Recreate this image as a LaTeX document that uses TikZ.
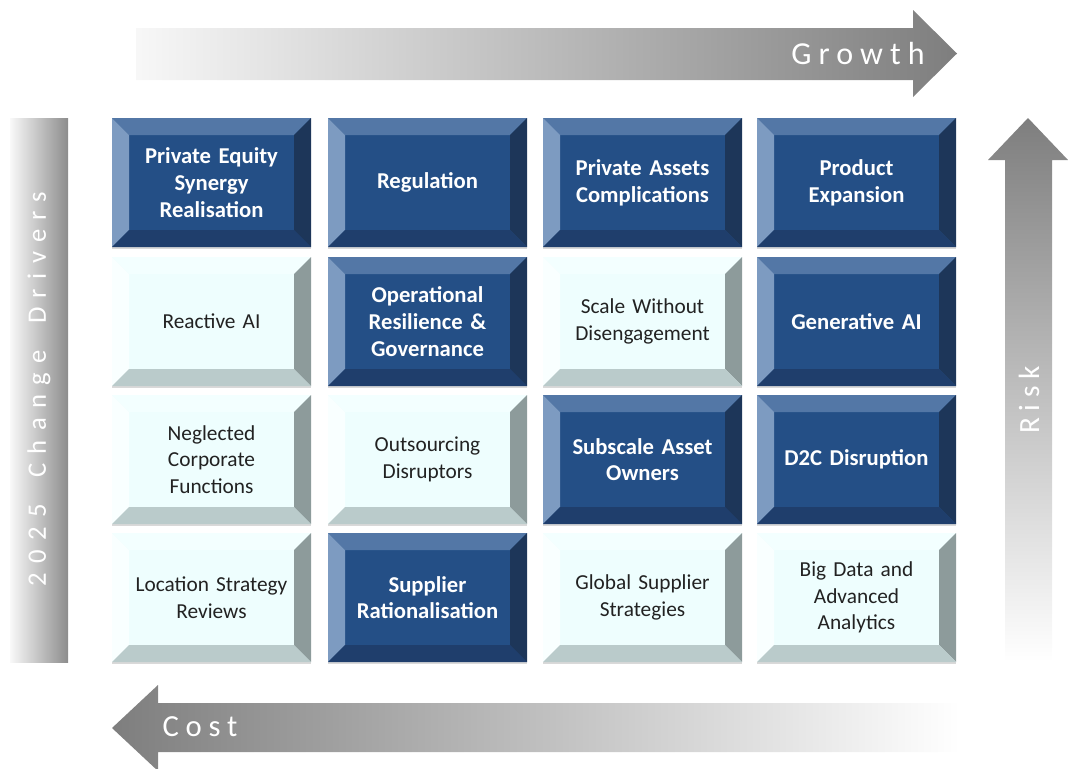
\documentclass[tikz,border=0pt]{standalone}
\usepackage{fontspec}
\setmainfont{Carlito}
\newfontfamily\axisfont[LetterSpace=22]{Carlito}
\newfontfamily\sidefont[LetterSpace=35]{Carlito}
\usetikzlibrary{shadows}

% tile palette
\definecolor{tiledark}{HTML}{244F86}
\definecolor{darktop}{HTML}{5377A6}
\definecolor{darkleft}{HTML}{7D9BC1}
\definecolor{darkright}{HTML}{1D3659}
\definecolor{darkbottom}{HTML}{1F3E6C}
\definecolor{tilelight}{HTML}{EEFEFE}
\definecolor{lighttop}{HTML}{F3FFFF}
\definecolor{lightleft}{HTML}{F9FFFF}
\definecolor{lightright}{HTML}{8D9B9B}
\definecolor{lightbottom}{HTML}{BACBCB}
\definecolor{textdark}{HTML}{222222}
\definecolor{axisgray}{HTML}{7E7E7E}

% width of the bevelled rim
\newlength\bevw
\setlength\bevw{12.75pt}

% four bevel faces: top, left, right, bottom
\newcommand{\bevelfaces}[4]{%
	\coordinate (nw) at (path picture bounding box.north west);
	\coordinate (ne) at (path picture bounding box.north east);
	\coordinate (sw) at (path picture bounding box.south west);
	\coordinate (se) at (path picture bounding box.south east);
	\fill[#1] (nw) -- (ne) -- ([shift={(-\bevw,-\bevw)}]ne) -- ([shift={(\bevw,-\bevw)}]nw) -- cycle;
	\fill[#2] (nw) -- ([shift={(\bevw,-\bevw)}]nw) -- ([shift={(\bevw,\bevw)}]sw) -- (sw) -- cycle;
	\fill[#3] (ne) -- (se) -- ([shift={(-\bevw,\bevw)}]se) -- ([shift={(-\bevw,-\bevw)}]ne) -- cycle;
	\fill[#4] (sw) -- (se) -- ([shift={(-\bevw,\bevw)}]se) -- ([shift={(\bevw,\bevw)}]sw) -- cycle;
}

\begin{document}
\begin{tikzpicture}[
		x=0.75pt, y=-0.75pt,
		% Styles
		tile/.style={minimum width=149.25pt, minimum height=96.75pt, inner sep=0pt, text width=136pt, align=center,
			drop shadow={shadow xshift=0pt, shadow yshift=-1.5pt, opacity=0.3}},
		darktile/.style={tile, fill=tiledark, text=white, font=\bfseries\fontsize{17}{20}\selectfont,
			path picture={\bevelfaces{darktop}{darkleft}{darkright}{darkbottom}}},
		lighttile/.style={tile, fill=tilelight, text=textdark, font=\fontsize{16}{20}\selectfont,
			path picture={\bevelfaces{lighttop}{lightleft}{lightright}{lightbottom}}},
		axislabel/.style={text=white, inner sep=0pt, font=\axisfont\fontsize{22}{22}\selectfont}
		]
		
		\useasboundingbox (0,0) rectangle (1068,768);
		
		% =========================================================
		% 1. AXIS ARROWS
		% =========================================================
		% Growth (top, pointing right)
		\shade[left color=gray!6, right color=axisgray]
		(136,28) -- (913,28) -- (913,10) -- (957,53.5) -- (913,97) -- (913,80) -- (136,80) -- cycle;
		\node[axislabel, font=\axisfont\fontsize{24}{24}\selectfont] (growth) at (858,54) {Growth};
		
		% Risk (right, pointing up)
		\shade[top color=axisgray, bottom color=white]
		(1005,662) -- (1005,160) -- (988,160) -- (1028,118) -- (1068,160) -- (1052,160) -- (1052,662) -- cycle;
		\node[axislabel, rotate=90] (risk) at (1029,400) {Risk};
		
		% Cost (bottom, pointing left)
		\shade[left color=axisgray, right color=white]
		(960,703) -- (158,703) -- (158,685) -- (112,728) -- (158,771) -- (158,752) -- (960,752) -- cycle;
		\node[axislabel, font=\axisfont\fontsize{23}{23}\selectfont] (cost) at (200,727) {Cost};
		
		% Change drivers bar (left)
		\shade[left color=gray!5, right color=gray!90] (10,118) rectangle (68,662);
		\node[axislabel, rotate=90, font=\sidefont\fontsize{20}{20}\selectfont] (drivers) at (39,389)
		{2025\hspace{20pt}Change\hspace{20pt}Drivers};
		
		% =========================================================
		% 2. TILE GRID (row 1 at the top)
		% =========================================================
		% Row 1
		\node[darktile] (equity) at (211.5,182.5) {Private Equity\\Synergy\\Realisation};
		\node[darktile] (regulation) at (427.5,182.5) {Regulation};
		\node[darktile] (privassets) at (642.5,182.5) {Private Assets\\Complications};
		\node[darktile] (product) at (856.5,182.5) {Product\\Expansion};
		
		% Row 2
		\node[lighttile] (reactive) at (211.5,321.5) {Reactive AI};
		\node[darktile] (resilience) at (427.5,321.5) {Operational\\Resilience \&\\Governance};
		\node[lighttile] (scale) at (642.5,321.5) {Scale Without\\Disengagement};
		\node[darktile] (genai) at (856.5,321.5) {Generative AI};
		
		% Row 3
		\node[lighttile] (corporate) at (211.5,459.5) {Neglected\\Corporate\\Functions};
		\node[lighttile] (outsourcing) at (427.5,459.5) {Outsourcing\\Disruptors};
		\node[darktile] (subscale) at (642.5,459.5) {Subscale Asset\\Owners};
		\node[darktile] (dtoc) at (856.5,459.5) {D2C Disruption};
		
		% Row 4
		\node[lighttile] (location) at (211.5,597.5) {Location Strategy\\Reviews};
		\node[darktile] (supplier) at (427.5,597.5) {Supplier\\Rationalisation};
		\node[lighttile] (globalsupp) at (642.5,597.5) {Global Supplier\\Strategies};
		\node[lighttile] (bigdata) at (856.5,597.5) {Big Data and\\Advanced\\Analytics};
		
	\end{tikzpicture}
\end{document}
